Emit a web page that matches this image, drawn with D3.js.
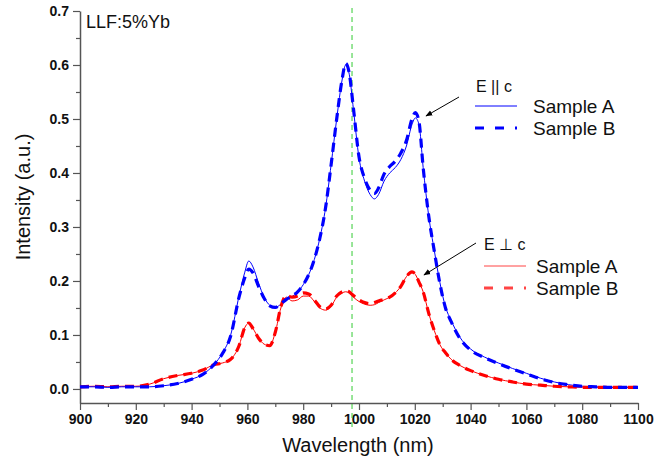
<!DOCTYPE html>
<html>
<head>
<meta charset="utf-8">
<script src="https://cdn.jsdelivr.net/npm/d3@7"></script>
<style>
  body { margin: 0; background: #fff; }
  text { font-family: "Liberation Sans", Arial, sans-serif; }
</style>
</head>
<body>
<div id="chart"></div>
<script>
// wavelength grid (nm)
var wavelengths = [900, 905, 910, 915, 920, 925, 930, 935, 940, 944, 948, 951, 954, 957, 959, 960.5, 962, 964, 966, 968,
    970, 972, 974, 976, 978, 980, 982, 984, 986, 988, 990, 992, 994, 995.2, 996.5, 998, 1000, 1002, 1004, 1005.5,
    1007, 1009, 1011, 1013, 1015, 1017, 1019, 1020.2, 1021.5, 1023, 1025, 1027, 1029, 1031, 1033, 1036, 1040, 1045,
    1050, 1055, 1060, 1065, 1070, 1075, 1080, 1085, 1090, 1095, 1100];

// E || c
var parA = [0.004, 0.004, 0.003, 0.004, 0.004, 0.004, 0.006, 0.010, 0.018, 0.027, 0.045, 0.066, 0.100, 0.172, 0.215, 0.237, 0.226, 0.196, 0.170, 0.155,
    0.151, 0.157, 0.165, 0.171, 0.180, 0.193, 0.212, 0.240, 0.280, 0.335, 0.415, 0.500, 0.574, 0.600, 0.583, 0.518, 0.428, 0.385, 0.360, 0.352,
    0.360, 0.385, 0.400, 0.410, 0.425, 0.450, 0.490, 0.502, 0.490, 0.410, 0.320, 0.256, 0.197, 0.152, 0.127, 0.097, 0.074, 0.059,
    0.048, 0.038, 0.029, 0.020, 0.013, 0.008, 0.005, 0.004, 0.003, 0.003, 0.003];
var parB = [0.004, 0.004, 0.003, 0.004, 0.004, 0.004, 0.006, 0.010, 0.018, 0.027, 0.045, 0.065, 0.098, 0.170, 0.205, 0.222, 0.215, 0.190, 0.168, 0.154,
    0.151, 0.158, 0.166, 0.172, 0.180, 0.193, 0.212, 0.240, 0.280, 0.335, 0.415, 0.500, 0.575, 0.603, 0.585, 0.520, 0.430, 0.390, 0.368, 0.362,
    0.372, 0.398, 0.412, 0.422, 0.437, 0.460, 0.500, 0.512, 0.495, 0.410, 0.320, 0.255, 0.195, 0.150, 0.125, 0.095, 0.072, 0.058,
    0.047, 0.037, 0.028, 0.019, 0.012, 0.008, 0.005, 0.004, 0.003, 0.003, 0.003];

// E perp c
var perpA = [0.004, 0.005, 0.004, 0.005, 0.005, 0.009, 0.019, 0.025, 0.029, 0.035, 0.045, 0.048, 0.055, 0.080, 0.113, 0.122, 0.112, 0.094, 0.083, 0.080,
    0.105, 0.150, 0.170, 0.163, 0.165, 0.172, 0.172, 0.162, 0.150, 0.146, 0.153, 0.170, 0.178, 0.180, 0.178, 0.170, 0.162, 0.157, 0.155, 0.156,
    0.160, 0.165, 0.170, 0.178, 0.190, 0.208, 0.217, 0.212, 0.198, 0.180, 0.140, 0.108, 0.082, 0.067, 0.055, 0.044, 0.034, 0.025,
    0.018, 0.013, 0.009, 0.007, 0.005, 0.004, 0.003, 0.003, 0.003, 0.003, 0.003];
var perpB = [0.004, 0.005, 0.004, 0.005, 0.005, 0.009, 0.019, 0.025, 0.029, 0.035, 0.045, 0.048, 0.055, 0.080, 0.113, 0.122, 0.112, 0.094, 0.083, 0.080,
    0.105, 0.152, 0.173, 0.170, 0.172, 0.178, 0.176, 0.165, 0.152, 0.148, 0.155, 0.172, 0.180, 0.182, 0.180, 0.173, 0.165, 0.160, 0.158, 0.160,
    0.163, 0.166, 0.170, 0.178, 0.190, 0.208, 0.217, 0.212, 0.198, 0.180, 0.140, 0.108, 0.082, 0.067, 0.055, 0.044, 0.034, 0.025,
    0.018, 0.013, 0.009, 0.007, 0.005, 0.004, 0.003, 0.003, 0.003, 0.003, 0.003];

var xTicks = [900, 920, 940, 960, 980, 1000, 1020, 1040, 1060, 1080, 1100];
var yTicks = [0.0, 0.1, 0.2, 0.3, 0.4, 0.5, 0.6, 0.7];
var markerWl = 997.5;

var w = 667, h = 463;
var plotLeft = 80, plotRight = 638, plotTop = 11, plotBottom = 403;

var svg = d3.select("#chart").append("svg")
    .attr("width", w).attr("height", h);

var x = d3.scaleLinear().domain([900, 1100]).range([plotLeft, plotRight]);
var y = d3.scaleLinear().domain([-0.026, 0.7]).range([plotBottom, plotTop]);

var axisColor = "#555";

// minor ticks
svg.append("g")
    .attr("transform", "translate(0," + plotBottom + ")")
    .call(d3.axisBottom(x).tickValues(d3.range(910, 1100, 20)).tickSize(4).tickFormat(""))
    .call(function (g) { g.select(".domain").remove(); g.selectAll("line").attr("stroke", axisColor).attr("stroke-width", 1.2); });
svg.append("g")
    .attr("transform", "translate(" + plotLeft + ",0)")
    .call(d3.axisLeft(y).tickValues(d3.range(0.05, 0.7, 0.1)).tickSize(4).tickFormat(""))
    .call(function (g) { g.select(".domain").remove(); g.selectAll("line").attr("stroke", axisColor).attr("stroke-width", 1.2); });

// major axes
var xAxis = svg.append("g")
    .attr("transform", "translate(0," + plotBottom + ")")
    .call(d3.axisBottom(x).tickValues(xTicks).tickSize(7).tickSizeOuter(0).tickPadding(4).tickFormat(d3.format("d")));
var yAxis = svg.append("g")
    .attr("transform", "translate(" + plotLeft + ",0)")
    .call(d3.axisLeft(y).tickValues(yTicks).tickSize(7).tickSizeOuter(0).tickPadding(4).tickFormat(d3.format(".1f")));

[xAxis, yAxis].forEach(function (g) {
    g.select(".domain").attr("stroke", axisColor).attr("stroke-width", 1.5);
    g.selectAll(".tick line").attr("stroke", axisColor).attr("stroke-width", 1.2);
    g.selectAll(".tick text")
        .attr("fill", "#111")
        .style("font-family", "'Liberation Sans', Arial, sans-serif")
        .style("font-size", "14px")
        .style("font-weight", "bold");
});

// vertical marker
svg.append("line")
    .attr("x1", x(markerWl)).attr("x2", x(markerWl))
    .attr("y1", 8).attr("y2", 430)
    .attr("stroke", "#33cc33").attr("stroke-width", 1)
    .attr("stroke-dasharray", "5,4");

var line = d3.line()
    .x(function (d) { return x(d[0]); })
    .y(function (d) { return y(d[1]); })
    .curve(d3.curveMonotoneX);

function pairs(vals) {
    return wavelengths.map(function (wl, i) { return [wl, vals[i]]; });
}

var series = [
    { vals: perpA, color: "#ff0000", width: 1, dash: null },
    { vals: parA, color: "#0000ff", width: 1, dash: null },
    { vals: perpB, color: "#ff0000", width: 3.2, dash: "9,6" },
    { vals: parB, color: "#0000ff", width: 3.2, dash: "9,6" }
];

series.forEach(function (s) {
    svg.append("path")
        .datum(pairs(s.vals))
        .attr("d", line)
        .attr("fill", "none")
        .attr("stroke", s.color)
        .attr("stroke-width", s.width)
        .attr("stroke-dasharray", s.dash);
});

// arrows
svg.append("defs").append("marker")
    .attr("id", "arr")
    .attr("viewBox", "0 0 10 10")
    .attr("refX", 9).attr("refY", 5)
    .attr("markerWidth", 7).attr("markerHeight", 7)
    .attr("orient", "auto")
    .append("path").attr("d", "M0,1L10,5L0,9Z").attr("fill", "#000");

svg.append("line").attr("x1", 459).attr("y1", 97).attr("x2", 426).attr("y2", 116)
    .attr("stroke", "#000").attr("stroke-width", 1).attr("marker-end", "url(#arr)");
svg.append("line").attr("x1", 476).attr("y1", 243).attr("x2", 424).attr("y2", 275)
    .attr("stroke", "#000").attr("stroke-width", 1).attr("marker-end", "url(#arr)");

// labels
svg.append("text").attr("x", 86).attr("y", 28)
    .style("font-size", "18px").attr("fill", "#111").text("LLF:5%Yb");

svg.append("text").attr("x", 358).attr("y", 452).attr("text-anchor", "middle")
    .style("font-size", "20px").attr("fill", "#111").text("Wavelength (nm)");

svg.append("text").attr("transform", "translate(30,197) rotate(-90)").attr("text-anchor", "middle")
    .style("font-size", "20px").attr("fill", "#111").text("Intensity (a.u.)");

// legends
function legend(title, tx, ty, color, lx, ly, textX) {
    svg.append("text").attr("x", tx).attr("y", ty)
        .style("font-size", "16px").attr("fill", "#111").text(title);
    svg.append("line").attr("x1", lx).attr("x2", lx + 42).attr("y1", ly).attr("y2", ly)
        .attr("stroke", color).attr("stroke-width", 1);
    svg.append("line").attr("x1", lx).attr("x2", lx + 42).attr("y1", ly + 22).attr("y2", ly + 22)
        .attr("stroke", color).attr("stroke-width", 3).attr("stroke-dasharray", "9,11");
    svg.append("text").attr("x", textX).attr("y", ly + 7)
        .style("font-size", "19px").attr("fill", "#111").text("Sample A");
    svg.append("text").attr("x", textX).attr("y", ly + 29)
        .style("font-size", "19px").attr("fill", "#111").text("Sample B");
}
legend("E || c", 476, 92, "#0000ff", 475, 106, 533);
legend("E \u22a5 c", 484, 250, "#ff4444", 484, 266, 536);
</script>
</body>
</html>
